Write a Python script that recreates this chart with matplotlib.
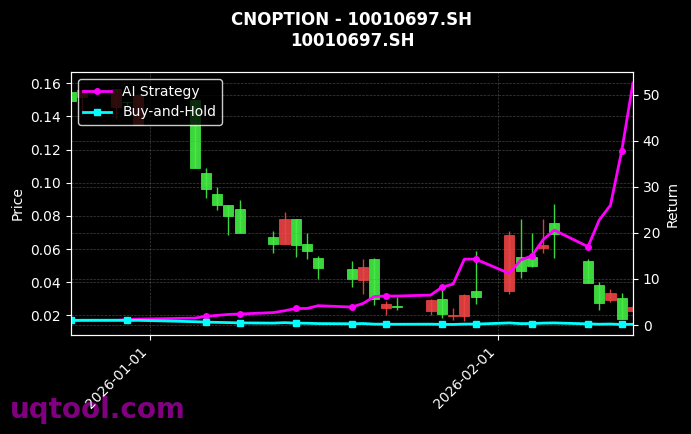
import numpy as np
import pandas as pd
import matplotlib
matplotlib.use("Agg")
import matplotlib.pyplot as plt
import matplotlib.dates as mdates

# trading days shown on the chart
dates = pd.to_datetime([
    "2025-12-25", "2025-12-26", "2025-12-29", "2025-12-30", "2025-12-31",
    "2026-01-05", "2026-01-06", "2026-01-07", "2026-01-08", "2026-01-09",
    "2026-01-12", "2026-01-13", "2026-01-14", "2026-01-15", "2026-01-16",
    "2026-01-19", "2026-01-20", "2026-01-21", "2026-01-22", "2026-01-23",
    "2026-01-26", "2026-01-27", "2026-01-28", "2026-01-29", "2026-01-30",
    "2026-02-02", "2026-02-03", "2026-02-04", "2026-02-05", "2026-02-06",
    "2026-02-09", "2026-02-10", "2026-02-11", "2026-02-12", "2026-02-13",
])

opens = [0.1547, 0.1517, 0.1456, 0.1489, 0.1349,
         0.1499, 0.1057, 0.0932, 0.0865, 0.0841,
         0.0672, 0.0632, 0.0779, 0.0630, 0.0544,
         0.0479, 0.0413, 0.0540, 0.0246, 0.0256,
         0.0228, 0.0298, 0.0198, 0.0198, 0.0347,
         0.0348, 0.0550, 0.0550, 0.0604, 0.0759,
         0.0528, 0.0383, 0.0292, 0.0306, 0.0228]
highs = [0.1550, 0.1558, 0.1567, 0.1489, 0.1535,
         0.1499, 0.1087, 0.0972, 0.0865, 0.0896,
         0.0709, 0.0821, 0.0779, 0.0695, 0.0560,
         0.0529, 0.0538, 0.0544, 0.0286, 0.0312,
         0.0297, 0.0357, 0.0242, 0.0328, 0.0590,
         0.0710, 0.0781, 0.0698, 0.0781, 0.0871,
         0.0540, 0.0403, 0.0359, 0.0336, 0.0262]
lows = [0.1496, 0.1407, 0.1384, 0.1450, 0.1349,
        0.1090, 0.0910, 0.0835, 0.0684, 0.0698,
        0.0578, 0.0632, 0.0554, 0.0541, 0.0421,
        0.0373, 0.0329, 0.0262, 0.0202, 0.0232,
        0.0202, 0.0186, 0.0172, 0.0167, 0.0268,
        0.0327, 0.0427, 0.0490, 0.0578, 0.0547,
        0.0397, 0.0232, 0.0282, 0.0178, 0.0220]
closes = [0.1496, 0.1558, 0.1567, 0.1486, 0.1530,
          0.1090, 0.0964, 0.0867, 0.0799, 0.0698,
          0.0632, 0.0779, 0.0626, 0.0590, 0.0487,
          0.0419, 0.0491, 0.0297, 0.0266, 0.0253,
          0.0292, 0.0208, 0.0200, 0.0322, 0.0312,
          0.0684, 0.0467, 0.0499, 0.0624, 0.0690,
          0.0397, 0.0272, 0.0333, 0.0178, 0.0252]

ai_strategy = [1.0, 1.0, 1.0, 1.2, 1.3,
               1.5, 1.9, 2.1, 2.3, 2.4,
               2.7, 3.1, 3.6, 3.6, 4.2,
               3.9, 4.7, 6.2, 6.3, 6.3,
               6.5, 8.2, 8.9, 14.3, 14.3,
               11.2, 14.1, 15.0, 18.5, 20.6,
               17.0, 22.8, 26.0, 37.8, 52.5]
buy_hold = [1.00, 1.04, 1.05, 0.99, 1.02,
            0.73, 0.64, 0.58, 0.53, 0.47,
            0.42, 0.52, 0.42, 0.39, 0.32,
            0.28, 0.33, 0.20, 0.18, 0.17,
            0.19, 0.14, 0.13, 0.21, 0.21,
            0.46, 0.31, 0.33, 0.42, 0.46,
            0.26, 0.18, 0.22, 0.12, 0.17]

title = "CNOPTION - 10010697.SH\n10010697.SH"

fig = plt.figure(figsize=(6.91, 4.34), dpi=100, facecolor="black")
ax = fig.add_axes([0.1027, 0.228, 0.8133, 0.606])
ax.set_facecolor("black")

o = np.array(opens)
c = np.array(closes)
up = c >= o
colors = np.where(up, "#ee4444", "#44ee44")
bottom = np.minimum(o, c)
height = np.maximum(np.abs(c - o), 0.0004)
x = mdates.date2num(dates)

ax.vlines(x, lows, highs, colors=colors, linewidth=1, alpha=0.9, zorder=2)
ax.bar(x, height, bottom=bottom, width=0.9, color=colors, edgecolor=colors,
       linewidth=0.6, alpha=0.9, zorder=3)

ax.set_ylim(0.0081, 0.1668)
ax.set_xlim(x[0], x[-1])
ax.set_ylabel("Price", color="white")
ax.grid(True, linestyle="--", linewidth=0.5, color="gray", alpha=0.5)

ax2 = ax.twinx()
ax2.plot(dates, ai_strategy, color="#ff00ff", linewidth=2, marker="o",
         markersize=4, markevery=3, label="AI Strategy")
ax2.plot(dates, buy_hold, color="#00ffff", linewidth=2, marker="s",
         markersize=4, markevery=3, label="Buy-and-Hold")
ax2.set_ylim(-2.17, 54.9)
ax2.set_ylabel("Return", color="white")
ax2.grid(True, linestyle="--", linewidth=0.5, color="gray", alpha=0.5)

ax.xaxis.set_major_locator(mdates.MonthLocator())
ax.xaxis.set_major_formatter(mdates.DateFormatter("%Y-%m-%d"))
for lbl in ax.get_xticklabels():
    lbl.set_rotation(45)
    lbl.set_ha("right")

for a in (ax, ax2):
    a.tick_params(colors="white")
    for s in a.spines.values():
        s.set_color("white")

leg = ax2.legend(loc="upper left", facecolor="black", edgecolor="white",
                 framealpha=0.8)
for t in leg.get_texts():
    t.set_color("white")

ax.set_title(title, color="white", fontsize=12, fontweight="bold", pad=19)

fig.text(0.0145, 0.037, "uqtool.com", fontsize=20, fontweight="bold",
         color="#800080", zorder=-1)

fig.savefig("out.png", dpi=100, facecolor="black")
